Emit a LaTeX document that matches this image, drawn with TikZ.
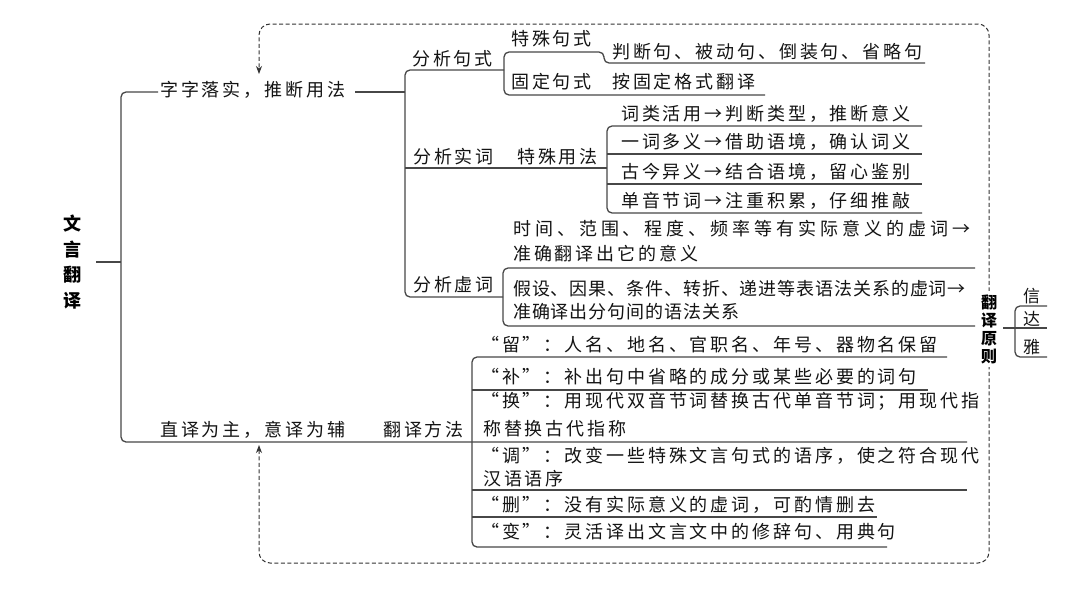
\documentclass[tikz,border=0pt]{standalone}
\usepackage{fontspec}
\setmainfont{Noto Sans CJK SC}
\newfontfamily\cjk[LetterSpace=16]{Noto Sans CJK SC}
\usetikzlibrary{arrows.meta}
\tikzset{
  ln/.style={draw=black!72, line width=1.3pt, rounded corners=5pt},
  dsh/.style={draw=black!80, line width=1pt, dash pattern=on 4pt off 2.5pt, rounded corners=11pt},
  tx/.style={anchor=base west, inner sep=0pt, text=black!92, font=\cjk\fontsize{18}{24}\selectfont},
  ttl/.style={inner sep=1pt, text=black, align=center, font=\bfseries\fontsize{18}{25.5}\selectfont},
  wide/.style={font=\cjk\fontsize{18}{24}\selectfont\addfontfeature{LetterSpace=22}},
  narrow/.style={font=\cjk\fontsize{18}{24}\selectfont\addfontfeature{LetterSpace=5}}
}
\begin{document}
\begin{tikzpicture}[x=1pt,y=-1pt]
\useasboundingbox[fill=white] (0,0) rectangle (1080,608);

% ---------- coordinates ----------
\coordinate (rootE) at (96,262);
\coordinate (spT) at (121,92);
\coordinate (spB) at (121,442);
\coordinate (n1L) at (158,92);
\coordinate (n1R) at (355,92);
\coordinate (bA) at (405,92);
\coordinate (bAt) at (405,70);
\coordinate (bAb) at (405,297);
\coordinate (bAm) at (405,168);
\coordinate (bB) at (504,70);
\coordinate (bBt) at (504,52);
\coordinate (bBb) at (504,95);
\coordinate (stepA) at (604,52);
\coordinate (stepB) at (604,63);
\coordinate (s1E) at (925,63);
\coordinate (s2E) at (765,95);
\coordinate (bC) at (607,168);
\coordinate (bCt) at (607,126);
\coordinate (bCb) at (607,213);
\coordinate (w1E) at (922,126);
\coordinate (w2E) at (922,154);
\coordinate (w3E) at (922,184);
\coordinate (w4E) at (922,213);
\coordinate (bD) at (503,297);
\coordinate (bDt) at (503,268);
\coordinate (bDb) at (503,326);
\coordinate (x1E) at (975,268);
\coordinate (x2E) at (975,326);
\coordinate (bE) at (472,442);
\coordinate (bEt) at (472,357);
\coordinate (bEb) at (472,547);
\coordinate (m1E) at (947,357);
\coordinate (m2E) at (928,390);
\coordinate (m3E) at (967,442);
\coordinate (m4E) at (967,490);
\coordinate (m5E) at (877,517);
\coordinate (m6E) at (887,547);
\coordinate (pJ) at (1003,328);
\coordinate (bF) at (1015,328);
\coordinate (bFt) at (1015,306);
\coordinate (bFb) at (1015,357);
\coordinate (p1E) at (1047,306);
\coordinate (p2E) at (1047,328);
\coordinate (p3E) at (1047,357);
\coordinate (arTop) at (259,74);
\coordinate (arBot) at (259,445);
\coordinate (dTL) at (259,24);
\coordinate (dBL) at (259,563);
\coordinate (dBR) at (989,563);
\coordinate (dTR) at (989,24);

% ---------- dashed feedback loop ----------
\draw[dsh, {Stealth[length=8pt,width=6pt]}-{Stealth[length=8pt,width=6pt]}]
  (arBot) -- (dBL) -- (dBR) -- (dTR) -- (dTL) -- (arTop);

% ---------- text nodes ----------
\node[ttl] (root) at (72,262) {文\\言\\翻\\译};
\node[tx] (n1) at (160,96) {字字落实，推断用法};
\node[tx] (n2) at (160,436) {直译为主，意译为辅};
\node[tx] (a1) at (412,65) {分析句式};
\node[tx] (a2) at (413,163) {分析实词};
\node[tx] (a2b) at (517,163) {特殊用法};
\node[tx] (a3) at (413,291) {分析虚词};
\node[tx] (s1) at (511,45) {特殊句式};
\node[tx] (s1t) at (612,58) {判断句、被动句、倒装句、省略句};
\node[tx] (s2) at (511,88) {固定句式};
\node[tx] (s2t) at (612,88) {按固定格式翻译};
\node[tx] (w1) at (621,120) {词类活用→判断类型，推断意义};
\node[tx] (w2) at (621,148) {一词多义→借助语境，确认词义};
\node[tx] (w3) at (621,178) {古今异义→结合语境，留心鉴别};
\node[tx] (w4) at (621,207) {单音节词→注重积累，仔细推敲};
\node[tx, wide] (x1a) at (513,235) {时间、范围、程度、频率等有实际意义的虚词→};
\node[tx] (x1b) at (513,260) {准确翻译出它的意义};
\node[tx, narrow] (x2a) at (513,295) {假设、因果、条件、转折、递进等表语法关系的虚词→};
\node[tx, narrow] (x2b) at (513,318) {准确译出分句间的语法关系};
\node[tx] (f0) at (383,436) {翻译方法};
\node[tx] (m1) at (481,351) {“留”：人名、地名、官职名、年号、器物名保留};
\node[tx] (m2) at (481,383) {“补”：补出句中省略的成分或某些必要的词句};
\node[tx] (m3a) at (481,407) {“换”：用现代双音节词替换古代单音节词；用现代指};
\node[tx] (m3b) at (483,435) {称替换古代指称};
\node[tx] (m4a) at (481,462) {“调”：改变一些特殊文言句式的语序，使之符合现代};
\node[tx] (m4b) at (483,485) {汉语语序};
\node[tx] (m5) at (481,511) {“删”：没有实际意义的虚词，可酌情删去};
\node[tx] (m6) at (481,538) {“变”：灵活译出文言文中的修辞句、用典句};
\node[ttl, fill=white, inner ysep=3pt, font=\bfseries\fontsize{16}{18}\selectfont] (p0) at (989,329) {翻\\译\\原\\则};
\node[tx, font=\cjk\fontsize{17}{22}\selectfont] (p1) at (1023,302) {信};
\node[tx, font=\cjk\fontsize{17}{22}\selectfont] (p2) at (1023,325) {达};
\node[tx, font=\cjk\fontsize{17}{22}\selectfont] (p3) at (1023,353) {雅};

% ---------- connectors ----------
\draw[ln] (rootE) -- (rootE -| spT);
\draw[ln] (n1L) -- (spT) -- (spB) -- (bE) -- (m3E);
\draw[ln] (n1R) -- (bA);
\draw[ln] (bB) -- (bAt) -- (bAb) -- (bD);
\draw[ln] (bAm) -- (bC);
\draw[ln] (s1E) -- (stepB) -- (stepA) -- (bBt) -- (bBb) -- (s2E);
\draw[ln] (w1E) -- (bCt) -- (bCb) -- (w4E);
\draw[ln] (bC |- w2E) -- (w2E);
\draw[ln] (bC |- w3E) -- (w3E);
\draw[ln] (x1E) -- (bDt) -- (bDb) -- (x2E);
\draw[ln] (m1E) -- (bEt) -- (bEb) -- (m6E);
\draw[ln] (bE |- m2E) -- (m2E);
\draw[ln] (bE |- m4E) -- (m4E);
\draw[ln] (bE |- m5E) -- (m5E);
\draw[ln] (pJ) -- (p2E);
\draw[ln] (p1E) -- (bFt) -- (bFb) -- (p3E);
\end{tikzpicture}
\end{document}
